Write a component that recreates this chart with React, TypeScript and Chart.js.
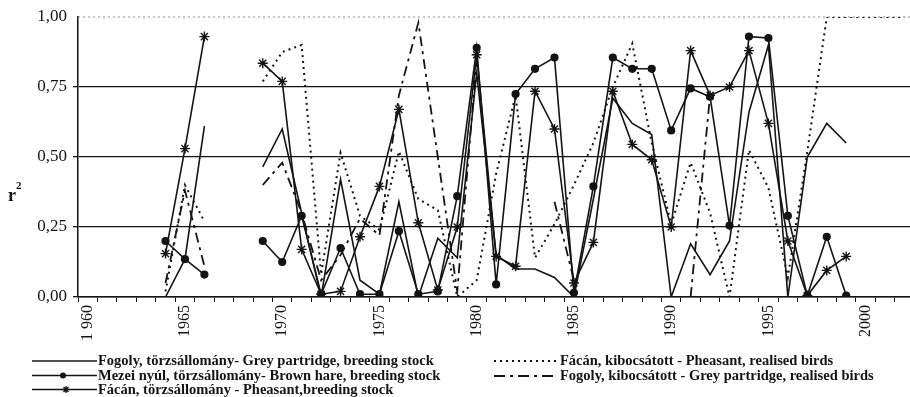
import React, { useEffect, useRef } from 'react';
import { Chart, registerables } from 'chart.js';

Chart.register(...registerables);

// ---- data ----
const YEARS = [
  1964, 1965, 1966, 1967, 1968, 1969, 1970, 1971, 1972, 1973,
  1974, 1975, 1976, 1977, 1978, 1979, 1980, 1981, 1982, 1983,
  1984, 1985, 1986, 1987, 1988, 1989, 1990, 1991, 1992, 1993,
  1994, 1995, 1996, 1997, 1998, 1999, 2000, 2001, 2002,
];

// Fogoly, törzsállomány (solid, no markers)
const PARTRIDGE_STOCK = [
  0.0, 0.135, 0.61, null, null, 0.465, 0.6, 0.3, 0.0, 0.42,
  0.06, 0.01, 0.34, 0.0, 0.21, 0.14, 0.8, 0.15, 0.1, 0.1,
  0.07, 0.0, 0.35, 0.71, 0.62, 0.58, 0.0, 0.19, 0.08, 0.2,
  0.66, 0.9, 0.0, 0.5, 0.62, 0.55, null, null, null,
];

// Mezei nyúl, törzsállomány (solid, dot markers)
const HARE_STOCK = [
  0.2, 0.135, 0.08, null, null, 0.2, 0.125, 0.29, 0.01, 0.175,
  0.01, 0.01, 0.235, 0.01, 0.02, 0.36, 0.89, 0.045, 0.725, 0.815,
  0.855, 0.015, 0.395, 0.855, 0.815, 0.815, 0.595, 0.745, 0.715, 0.255,
  0.93, 0.925, 0.29, 0.005, 0.215, 0.005, null, null, null,
];

// Fácán, törzsállomány (solid, star markers)
const PHEASANT_STOCK = [
  0.155, 0.53, 0.93, null, null, 0.835, 0.77, 0.17, 0.01, 0.02,
  0.215, 0.395, 0.67, 0.265, 0.025, 0.25, 0.865, 0.145, 0.11, 0.735,
  0.6, 0.05, 0.195, 0.735, 0.545, 0.49, 0.25, 0.88, 0.72, 0.75,
  0.88, 0.62, 0.2, 0.005, 0.095, 0.145, null, null, null,
];

// Fácán, kibocsátott (dotted)
const PHEASANT_RELEASED = [
  0.02, 0.4, 0.27, null, null, 0.77, 0.875, 0.9, 0.08, 0.515,
  0.29, 0.24, 0.52, 0.35, 0.31, 0.0, 0.06, 0.44, 0.72, 0.14,
  0.26, 0.4, 0.55, 0.75, 0.905, 0.55, 0.26, 0.48, 0.3, 0.0,
  0.525, 0.39, 0.07, 0.52, 1.0, 1.0, 1.0, 1.0, 1.0,
];

// Fogoly, kibocsátott (dash-dot)
const PARTRIDGE_RELEASED = [
  0.05, 0.38, 0.11, null, null, 0.4, 0.48, 0.3, 0.06, 0.15,
  0.28, 0.22, 0.72, 0.98, 0.5, 0.02, 0.85, null, null, null,
  0.34, 0.06, null, null, null, null, null, 0.0, 0.72, null,
  null, null, null, null, null, null, null, null, null,
];

const Y_TICKS = [0, 0.25, 0.5, 0.75, 1];
const X_LABEL_YEARS = [1960, 1965, 1970, 1975, 1980, 1985, 1990, 1995, 2000];
const X_LABEL_TEXT = ['1 960', '1965', '1970', '1975', '1980', '1985', '1990', '1995', '2000'];
const X_MIN = 1959.5;
const X_MAX = 2002.28;

const LEGEND_LABELS = [
  'Fogoly, törzsállomány- Grey partridge, breeding stock',
  'Mezei nyúl, törzsállomány- Brown hare, breeding stock',
  'Fácán, törzsállomány - Pheasant,breeding stock',
  'Fácán, kibocsátott - Pheasant, realised birds',
  'Fogoly, kibocsátott - Grey partridge, realised birds',
];

const INK = '#141414';
const SERIF = '"Liberation Serif", "DejaVu Serif", serif';

const pts = (vals: (number | null)[]) => YEARS.map((yr, i) => ({ x: yr, y: vals[i] }));

function drawStar(ctx: CanvasRenderingContext2D, x: number, y: number, r: number) {
  ctx.beginPath();
  ctx.moveTo(x - r, y); ctx.lineTo(x + r, y);
  ctx.moveTo(x, y - r); ctx.lineTo(x, y + r);
  const d = r * 0.707;
  ctx.moveTo(x - d, y - d); ctx.lineTo(x + d, y + d);
  ctx.moveTo(x - d, y + d); ctx.lineTo(x + d, y - d);
  ctx.stroke();
}

const decorPlugin = {
  id: 'decor',
  beforeDatasetsDraw(chart: any) {
    const ctx = chart.ctx as CanvasRenderingContext2D;
    const { left, right } = chart.chartArea;
    const y1 = chart.scales.y.getPixelForValue(1);
    ctx.save();
    ctx.strokeStyle = '#8a8a8a';
    ctx.lineWidth = 1;
    ctx.setLineDash([2, 3]);
    ctx.beginPath();
    ctx.moveTo(left, y1);
    ctx.lineTo(right, y1);
    ctx.stroke();
    ctx.restore();
  },
  afterDraw(chart: any) {
    const ctx = chart.ctx as CanvasRenderingContext2D;
    ctx.save();
    ctx.fillStyle = INK;
    ctx.strokeStyle = INK;
    // r² axis label
    ctx.textBaseline = 'alphabetic';
    ctx.textAlign = 'left';
    ctx.font = `bold 18px ${SERIF}`;
    ctx.fillText('r', 8, 201);
    ctx.font = `bold 11px ${SERIF}`;
    ctx.fillText('2', 16, 189);

    // legend
    ctx.font = `bold 14.5px ${SERIF}`;
    ctx.textBaseline = 'middle';
    const leftRows = [361, 375.5, 389.5];
    const rightRows = [361, 376];
    ctx.lineWidth = 1.6;
    leftRows.forEach((yy, i) => {
      ctx.setLineDash([]);
      ctx.beginPath();
      ctx.moveTo(32, yy);
      ctx.lineTo(97, yy);
      ctx.stroke();
      if (i === 1) {
        ctx.beginPath();
        ctx.arc(63, yy, 3, 0, Math.PI * 2);
        ctx.fill();
      }
      if (i === 2) {
        ctx.lineWidth = 1.3;
        drawStar(ctx, 66, yy, 3.5);
        ctx.lineWidth = 1.6;
      }
      ctx.fillText(LEGEND_LABELS[i], 98, yy + 0.5);
    });
    ctx.lineWidth = 2;
    ctx.setLineDash([2, 4]);
    ctx.beginPath();
    ctx.moveTo(494, rightRows[0]);
    ctx.lineTo(557, rightRows[0]);
    ctx.stroke();
    ctx.setLineDash([11, 5, 3, 5]);
    ctx.beginPath();
    ctx.moveTo(494, rightRows[1]);
    ctx.lineTo(557, rightRows[1]);
    ctx.stroke();
    ctx.setLineDash([]);
    ctx.fillText(LEGEND_LABELS[3], 560, rightRows[0] + 0.5);
    ctx.fillText(LEGEND_LABELS[4], 560, rightRows[1] + 0.5);
    ctx.restore();
  },
};

export default function App() {
  const ref = useRef<HTMLCanvasElement | null>(null);

  useEffect(() => {
    document.body.style.margin = '0';
    const canvas = ref.current;
    if (!canvas) return;
    const bounds: number[] = [];
    for (let v = X_MIN; v <= X_MAX; v += 1) bounds.push(v);

    const chart = new Chart(canvas, {
      type: 'line',
      data: {
        datasets: [
          {
            label: LEGEND_LABELS[0],
            data: pts(PARTRIDGE_STOCK),
            borderColor: INK,
            borderWidth: 1.6,
            pointRadius: 0,
            tension: 0,
          },
          {
            label: LEGEND_LABELS[1],
            data: pts(HARE_STOCK),
            borderColor: INK,
            backgroundColor: INK,
            borderWidth: 1.6,
            pointStyle: 'circle',
            pointRadius: 3.3,
            pointBackgroundColor: INK,
            pointBorderColor: INK,
            tension: 0,
          },
          {
            label: LEGEND_LABELS[2],
            data: pts(PHEASANT_STOCK),
            borderColor: INK,
            borderWidth: 1.6,
            pointStyle: 'star',
            pointRadius: 5,
            pointBorderWidth: 1.4,
            pointBorderColor: INK,
            tension: 0,
          },
          {
            label: LEGEND_LABELS[3],
            data: pts(PHEASANT_RELEASED),
            borderColor: INK,
            borderWidth: 2,
            borderDash: [2, 4],
            pointRadius: 0,
            tension: 0,
          },
          {
            label: LEGEND_LABELS[4],
            data: pts(PARTRIDGE_RELEASED),
            borderColor: INK,
            borderWidth: 1.8,
            borderDash: [10, 5, 3, 5],
            pointRadius: 0,
            tension: 0,
          },
        ] as any,
      },
      options: {
        responsive: false,
        animation: false,
        devicePixelRatio: 1,
        layout: { autoPadding: false, padding: { top: 17, right: 0, bottom: 0, left: 0 } },
        plugins: {
          legend: { display: false },
          tooltip: { enabled: false },
        },
        scales: {
          x: {
            type: 'linear',
            min: X_MIN,
            max: X_MAX,
            afterBuildTicks: (s: any) => {
              s.ticks = bounds.map((v) => ({ value: v }));
            },
            afterFit: (s: any) => {
              s.height = 100;
              s.paddingLeft = 0;
              s.paddingRight = 0;
            },
            ticks: {
              autoSkip: false,
              minRotation: 90,
              maxRotation: 90,
              labelOffset: 9.72,
              padding: 3,
              color: INK,
              font: { family: SERIF, size: 16 },
              callback: (value: any) => {
                const yr = Math.round(Number(value) + 0.5);
                const idx = X_LABEL_YEARS.indexOf(yr);
                return idx >= 0 ? X_LABEL_TEXT[idx] : '';
              },
            },
            grid: {
              drawOnChartArea: false,
              drawTicks: true,
              tickLength: 5,
              color: INK,
              lineWidth: 1,
            },
            border: { display: true, color: INK, width: 1.5 },
          },
          y: {
            type: 'linear',
            min: 0,
            max: 1,
            afterBuildTicks: (s: any) => {
              s.ticks = Y_TICKS.map((v) => ({ value: v }));
            },
            afterFit: (s: any) => {
              s.width = 78;
            },
            ticks: {
              color: INK,
              padding: 6,
              font: { family: SERIF, size: 17 },
              callback: (value: any) => Number(value).toFixed(2).replace('.', ','),
            },
            grid: {
              color: (c: any) => (c.tick && c.tick.value === 1 ? 'rgba(0,0,0,0)' : INK),
              lineWidth: 1.3,
              tickLength: 5,
            },
            border: { display: true, color: INK, width: 1.5 },
          },
        },
      } as any,
      plugins: [decorPlugin],
    });

    return () => chart.destroy();
  }, []);

  return (
    <div style={{ width: 910, height: 397, background: '#fff' }}>
      <canvas ref={ref} width={910} height={397} style={{ display: 'block' }} />
    </div>
  );
}
